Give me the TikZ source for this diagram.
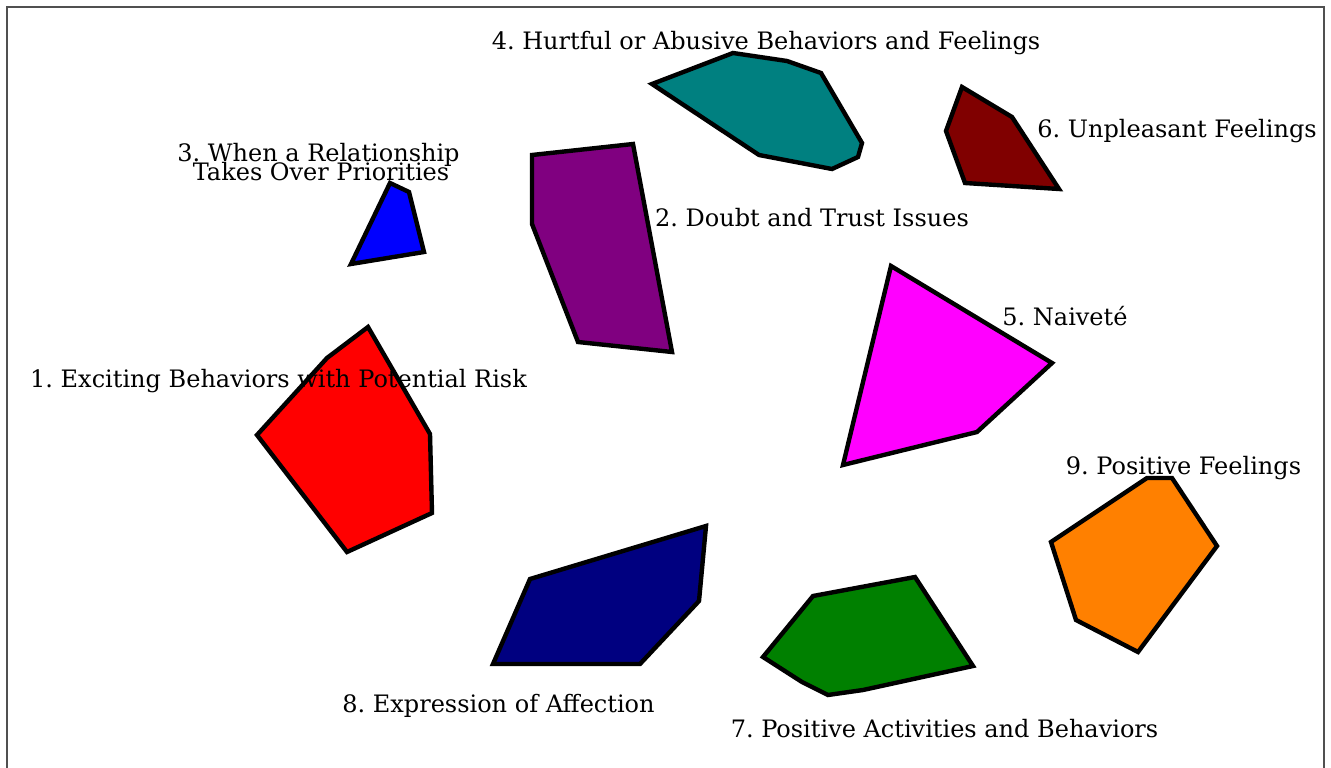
\documentclass[tikz,border=0pt]{standalone}
\usepackage{fontspec}
\setmainfont{DejaVu Serif}
\frenchspacing
\definecolor{cred}{RGB}{255,0,0}
\definecolor{cpurple}{RGB}{128,0,128}
\definecolor{cblue}{RGB}{0,0,255}
\definecolor{cteal}{RGB}{0,128,128}
\definecolor{cmagenta}{RGB}{255,0,255}
\definecolor{cmaroon}{RGB}{128,0,0}
\definecolor{cgreen}{RGB}{0,128,0}
\definecolor{cnavy}{RGB}{0,0,128}
\definecolor{corange}{RGB}{255,128,0}
\definecolor{frame}{RGB}{80,80,80}
\tikzset{
  poly/.style={draw=black, line width=4.4pt, line join=miter},
  lbl/.style={anchor=base, inner sep=0pt, font=\fontsize{24}{24}\selectfont\frenchspacing, text=black},
}
\begin{document}
\begin{tikzpicture}[x=1pt,y=-1pt]
\useasboundingbox (0,0) rectangle (1331,768);
\fill[white] (0,0) rectangle (1331,768);
\draw[frame, line width=1.5pt] (7,770) -- (7,7) -- (1324,7) -- (1324,770);
% polygons
\filldraw[poly, fill=cred] (368,327) -- (327,358) -- (257,435) -- (347,552) -- (432,513) -- (430,434) -- cycle;
\filldraw[poly, fill=cpurple] (532,155) -- (633,144) -- (672,352) -- (578,342) -- (532,224) -- cycle;
\filldraw[poly, fill=cblue] (390,183) -- (409,192) -- (424,252) -- (351,264) -- cycle;
\filldraw[poly, fill=cteal] (652,84) -- (733,53) -- (787,61) -- (821,73) -- (862,143) -- (858,157) -- (832,169) -- (759,155) -- cycle;
\filldraw[poly, fill=cmagenta] (891,266) -- (1052,363) -- (977,432) -- (843,465) -- cycle;
\filldraw[poly, fill=cmaroon] (962,87) -- (1012,117) -- (1059,189) -- (965,183) -- (946,131) -- cycle;
\filldraw[poly, fill=cgreen] (813,596) -- (915,577) -- (973,666) -- (863,690) -- (828,695) -- (802,682) -- (763,657) -- cycle;
\filldraw[poly, fill=cnavy] (530,579) -- (706,526) -- (699,601) -- (640,664) -- (493,664) -- cycle;
\filldraw[poly, fill=corange] (1147,478) -- (1172,478) -- (1217,546) -- (1138,652) -- (1076,620) -- (1051,542) -- cycle;
% labels
\node[lbl] (l1) at (278.5,387) {1. Exciting Behaviors with Potential Risk};
\node[lbl] (l2) at (812,226) {2. Doubt and Trust Issues};
\node[lbl] (l3a) at (318.5,161) {3. When a Relationship};
\node[lbl] (l3b) at (321,180) {Takes Over Priorities};
\node[lbl] (l4) at (766,50) {4. Hurtful or Abusive Behaviors and Feelings};
\node[lbl] (l5) at (1065,325) {5. Naiveté};
\node[lbl] (l6) at (1177,137) {6. Unpleasant Feelings};
\node[lbl] (l7) at (944.5,737) {7. Positive Activities and Behaviors};
\node[lbl] (l8) at (498.5,712) {8. Expression of Affection};
\node[lbl] (l9) at (1183.5,474) {9. Positive Feelings};
\end{tikzpicture}
\end{document}
